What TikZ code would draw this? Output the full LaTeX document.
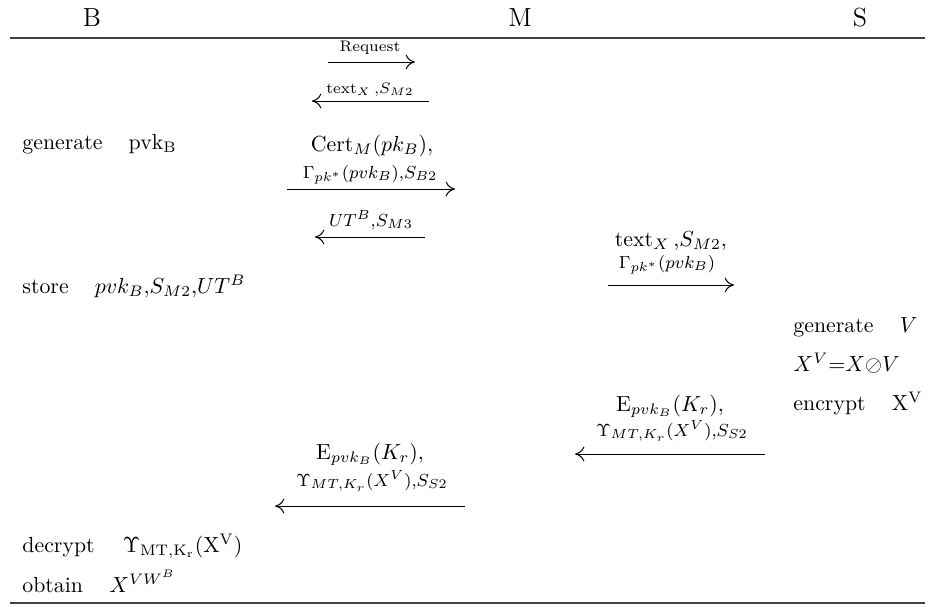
\documentclass[tikz,border=0pt]{standalone}
\usepackage{amsmath,amssymb}
\usetikzlibrary{arrows.meta,calc}

\begin{document}
\begin{tikzpicture}[x=0.0161cm, y=-0.0161cm,
  parte/.style={font=\large, anchor=base, inner sep=0pt},
  accion/.style={anchor=base west, inner sep=0pt},
  etiq/.style={anchor=base, inner sep=0pt},
  subetiq/.style={anchor=base, inner sep=0pt, font=\footnotesize},
  minietiq/.style={anchor=base, inner sep=0pt, font=\scriptsize},
  flow/.style={-{To[length=1.5mm,width=2.4mm]}, line width=0.45pt},
  regla/.style={line width=0.9pt, black!75}]
\useasboundingbox (0,0) rectangle (935,606);

% cabecera
\node[parte] (hB) at (92,26)  {B};
\node[parte] (hM) at (520,26) {M};
\node[parte] (hS) at (860,26) {S};
\coordinate (r0) at (10,38);  \coordinate (r1) at (925,38);
\coordinate (q0) at (10,603); \coordinate (q1) at (925,603);
\draw[regla] (r0) -- (r1);
\draw[regla] (q0) -- (q1);

% acciones de B
\node[accion] (b1) at (22,149) {generate\hspace{12pt}$\mathrm{pvk_B}$};
\node[accion] (b2) at (22,293) {store\hspace{12pt}$pvk_B,\!S_{M2},\!UT^B$};
\node[accion] (b3) at (22,552) {decrypt\hspace{13pt}$\mathrm{\Upsilon_{MT,K_r}(X^V)}$};
\node[accion] (b4) at (22,592) {obtain\hspace{12pt}$X^{VW^B}$};

% acciones de S
\node[accion] (s1) at (793,332) {generate\hspace{12pt}$V$};
\node[accion] (s2) at (793,371) {$X^V{=}X{\oslash}V$};
\node[accion] (s3) at (793,410) {encrypt\hspace{12pt}$\mathrm{X^V}$};

% mensajes
\coordinate (m1a) at (328,62);  \coordinate (m1b) at (415,62);
\coordinate (m2a) at (429,101); \coordinate (m2b) at (312,101);
\coordinate (m3a) at (287,189); \coordinate (m3b) at (455,189);
\coordinate (m4a) at (425,237); \coordinate (m4b) at (315,237);
\coordinate (m5a) at (608,285); \coordinate (m5b) at (734,285);
\coordinate (m6a) at (765,454); \coordinate (m6b) at (575,454);
\coordinate (m7a) at (465,506); \coordinate (m7b) at (275,506);

\draw[flow] (m1a) -- (m1b);
\node[minietiq] (e1) at (370,51) {Request};

\draw[flow] (m2a) -- (m2b);
\node[minietiq] (e2) at (370,93) {$\mathrm{text}_X\,,\!S_{M2}$};

\draw[flow] (m3a) -- (m3b);
\node[etiq] (e3) at (372,151) {$\mathrm{Cert}_M(pk_B),$};
\node[subetiq] (e3b) at (370,178) {$\Gamma_{pk^*}(pvk_B),\!S_{B2}$};

\draw[flow] (m4a) -- (m4b);
\node[subetiq] (e4) at (371,226) {$UT^B,\!S_{M3}$};

\draw[flow] (m5a) -- (m5b);
\node[etiq] (e5) at (671,246) {$\mathrm{text}_X\,,\!S_{M2},$};
\node[subetiq] (e5b) at (667,268) {$\Gamma_{pk^*}(pvk_B)$};

\draw[flow] (m6a) -- (m6b);
\node[etiq] (e6) at (670,411) {$\mathrm{E}_{pvk_B}(K_r),$};
\node[subetiq] (e6b) at (672,436) {$\Upsilon_{MT,K_r}(X^V),\!S_{S2}$};

\draw[flow] (m7a) -- (m7b);
\node[etiq] (e7) at (370,459) {$\mathrm{E}_{pvk_B}(K_r),$};
\node[subetiq] (e7b) at (372,486) {$\Upsilon_{MT,K_r}(X^V),\!S_{S2}$};
\end{tikzpicture}
\end{document}
